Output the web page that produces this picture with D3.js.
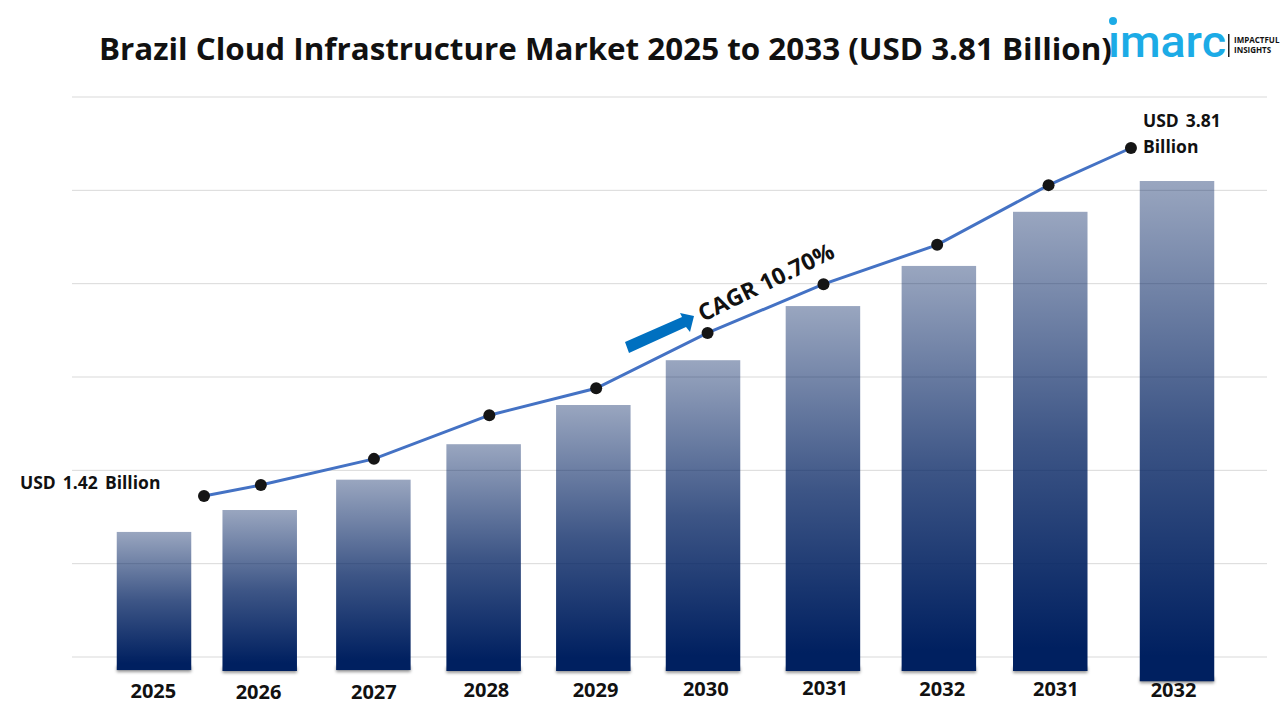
<!DOCTYPE html>
<html>
<head>
<meta charset="utf-8">
<title>Brazil Cloud Infrastructure Market</title>
<script src="https://cdn.jsdelivr.net/npm/d3@7"></script>
<style>
    html, body { margin: 0; padding: 0; background: #fff; }
    svg { display: block; }
    text { font-family: "Open Sans", sans-serif; font-weight: 700; fill: #111; }
</style>
</head>
<body>
<svg id="chart" width="1280" height="720"></svg>
<script>
// tick labels, the source chart really repeats 2031 and 2032
var categories = ['2025', '2026', '2027', '2028', '2029', '2030', '2031', '2032', '2031', '2032'];

// bars in gridline units, the bars hang a little under the baseline
var barTops = [1.34, 1.575, 1.90, 2.28, 2.70, 3.18, 3.76, 4.19, 4.77, 5.10];
var barBases = [-0.14, -0.15, -0.14, -0.15, -0.15, -0.15, -0.15, -0.15, -0.15, -0.26];
var gridLevels = [0, 1, 2, 3, 4, 5, 6];

// line in USD billion
var lineValues = [1.42, 1.495, 1.675, 1.975, 2.16, 2.54, 2.875, 3.145, 3.555, 3.81];

// the slots are not evenly spaced in the picture
var barSlots = [0, 0.93, 1.93, 2.90, 3.865, 4.83, 5.885, 6.905, 7.885, 9];
var lineSlots = [0.44, 0.94, 1.935, 2.95, 3.89, 4.87, 5.89, 6.89, 7.87, 8.595];
var tickSlots = [-0.01, 0.915, 1.93, 2.92, 3.88, 4.85, 5.90, 6.93, 7.93, 8.965];

var $svg = d3.select('#chart');

var x = d3.scaleLinear().domain([0, 9]).range([154, 1177]);
var y = d3.scaleLinear().domain([0, 6]).range([657, 97]);
var yLine = d3.scaleLinear().domain([1.42, 3.81]).range([496, 148]);

var barWidth = 74.5;

//gradient and shadow for the bars
var $defs = $svg.append('defs');
var $grad = $defs.append('linearGradient')
    .attr('id', 'barFill')
    .attr('x1', 0).attr('y1', 0).attr('x2', 0).attr('y2', 1);
$grad.append('stop').attr('offset', '0%').attr('stop-color', '#002060').attr('stop-opacity', 0.4);
$grad.append('stop').attr('offset', '50%').attr('stop-color', '#002060').attr('stop-opacity', 0.76);
$grad.append('stop').attr('offset', '95%').attr('stop-color', '#002060').attr('stop-opacity', 1);

$defs.append('filter').attr('id', 'barShadow')
    .attr('x', '-10%').attr('y', '-100%').attr('width', '120%').attr('height', '300%')
    .append('feGaussianBlur').attr('stdDeviation', 1.5);

$defs.append('clipPath').attr('id', 'logoClip')
    .append('rect').attr('x', 1100).attr('y', 32).attr('width', 130).attr('height', 30);

// gridlines
$svg.append('g').selectAll('line')
    .data(gridLevels)
    .join('line')
    .attr('x1', 72)
    .attr('x2', 1267)
    .attr('y1', d => y(d))
    .attr('y2', d => y(d))
    .attr('stroke', '#d9d9d9')
    .attr('stroke-width', 1);

// shadow only under the foot of each bar, the tops are see through
$svg.append('g').selectAll('rect')
    .data(barBases)
    .join('rect')
    .attr('x', (d, i) => x(barSlots[i]) - barWidth / 2)
    .attr('width', barWidth)
    .attr('y', d => y(d) - 4)
    .attr('height', 6)
    .attr('fill', '#000')
    .attr('fill-opacity', 0.4)
    .attr('filter', 'url(#barShadow)');

// bars
$svg.append('g').selectAll('rect')
    .data(barTops)
    .join('rect')
    .attr('x', (d, i) => x(barSlots[i]) - barWidth / 2)
    .attr('width', barWidth)
    .attr('y', d => y(d))
    .attr('height', (d, i) => y(barBases[i]) - y(d))
    .attr('fill', 'url(#barFill)');

// x axis, no domain and no tick marks
var tickDrop = [698, 699, 699, 697, 697, 696, 695, 696, 696, 697];
var $axis = $svg.append('g')
    .call(d3.axisBottom(x)
        .tickValues(tickSlots)
        .tickSize(0)
        .tickFormat((d, i) => categories[i]));
$axis.select('.domain').remove();
$axis.selectAll('text')
    .attr('y', (d, i) => tickDrop[i])
    .attr('dy', 0)
    .style('font-family', '"Open Sans", sans-serif')
    .style('font-size', '20px')
    .style('font-weight', 700)
    .style('fill', '#111');

// line and dots
var line = d3.line()
    .x((d, i) => x(lineSlots[i]))
    .y(d => yLine(d));

$svg.append('path')
    .datum(lineValues)
    .attr('d', line)
    .attr('fill', 'none')
    .attr('stroke', '#4472c4')
    .attr('stroke-width', 3);

$svg.append('g').selectAll('circle')
    .data(lineValues)
    .join('circle')
    .attr('cx', (d, i) => x(lineSlots[i]))
    .attr('cy', d => yLine(d))
    .attr('r', 6)
    .attr('fill', '#151515');

// title
$svg.append('text')
    .attr('x', 99)
    .attr('y', 60)
    .attr('font-size', 31)
    .attr('textLength', 1013)
    .attr('lengthAdjust', 'spacingAndGlyphs')
    .text('Brazil Cloud Infrastructure Market 2025 to 2033 (USD 3.81 Billion)');

// value labels
[['USD 1.42 Billion', 20, 489], ['USD 3.81', 1143, 127], ['Billion', 1143, 153]].forEach(l => {
    $svg.append('text')
        .attr('x', l[1])
        .attr('y', l[2])
        .attr('font-size', 17.5)
        .attr('word-spacing', 2.5)
        .text(l[0]);
});

// CAGR arrow and label
$svg.append('path')
    .attr('d', 'M625,342 L682,317 L680,313 L694,316 L690,332 L686,327 L629,353 Z')
    .attr('fill', '#0070c0');

$svg.append('text')
    .attr('transform', 'translate(703,322) rotate(-26)')
    .attr('font-size', 23)
    .text('CAGR 10.70%');

// logo, the clip hides the font's own i dot so the floating one can sit higher
var $logo = $svg.append('g');
$logo.append('text')
    .attr('x', 1108)
    .attr('y', 57)
    .attr('font-size', 45)
    .attr('textLength', 118)
    .attr('lengthAdjust', 'spacingAndGlyphs')
    .attr('clip-path', 'url(#logoClip)')
    .style('font-family', 'Roboto, sans-serif')
    .style('font-weight', 500)
    .style('fill', '#1cabe6')
    .text('imarc');
$logo.append('circle').attr('cx', 1113).attr('cy', 21).attr('r', 4).attr('fill', '#1cabe6');
$logo.append('rect').attr('x', 1228).attr('y', 34).attr('width', 1.5).attr('height', 23).attr('fill', '#222');
$logo.append('text').attr('x', 1234).attr('y', 43).attr('font-size', 8).text('IMPACTFUL');
$logo.append('text').attr('x', 1234).attr('y', 53).attr('font-size', 8).text('INSIGHTS');
</script>
</body>
</html>
